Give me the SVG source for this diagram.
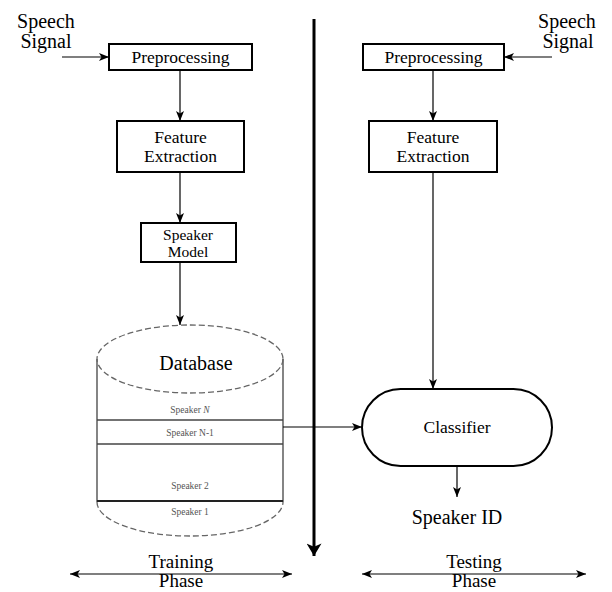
<svg xmlns="http://www.w3.org/2000/svg" width="612" height="592" viewBox="0 0 612 592">
<style>
.box{fill:#fff;stroke:#000;stroke-width:2}
.t{font-family:"Liberation Serif","Times New Roman",serif;fill:#000;text-anchor:middle}
.bt{font-size:17.5px}
.mt{font-size:15.5px}
.lt{font-size:20px}
.pt{font-size:19px}
.st{font-size:9.5px;fill:#555}
.c{stroke:#000;stroke-width:1.2;fill:none}
.dash{stroke:#666;stroke-width:1.3;fill:none;stroke-dasharray:6 3}
</style>
<defs>
<marker id="ah" viewBox="0 0 10 8" refX="10" refY="4" markerWidth="10" markerHeight="8" markerUnits="userSpaceOnUse" orient="auto-start-reverse">
<path d="M0,0 L10,4 L0,8 L2.5,4 z" fill="#000"/>
</marker>
<marker id="ahb" viewBox="0 0 10 12" refX="10" refY="6" markerWidth="6" markerHeight="5" orient="auto">
<path d="M0,0 L10,6 L0,12 L2.5,6 z" fill="#000"/>
</marker>
</defs>
<rect width="612" height="592" fill="#fff"/>

<g id="speech-left">
<text class="t lt" x="46" y="28">Speech</text>
<text class="t lt" x="46" y="48">Signal</text>
</g>
<g id="speech-right">
<text class="t lt" x="567" y="28">Speech</text>
<text class="t lt" x="568" y="48">Signal</text>
</g>

<g id="pre-left">
<rect class="box" x="109" y="44" width="143" height="26"/>
<text class="t bt" x="180.5" y="63">Preprocessing</text>
</g>
<g id="feat-left">
<rect class="box" x="117" y="121" width="127" height="51"/>
<text class="t bt" x="180.5" y="143">Feature</text>
<text class="t bt" x="180.5" y="162">Extraction</text>
</g>
<g id="model">
<rect class="box" x="141" y="223" width="95" height="39"/>
<text class="t mt" x="188" y="240">Speaker</text>
<text class="t mt" x="188" y="257">Model</text>
</g>

<g id="database">
<path d="M97,359 L97,502 M283,359 L283,502" stroke="#444" stroke-width="1.3" fill="none"/>
<ellipse class="dash" cx="190" cy="359" rx="93" ry="34"/>
<path class="dash" d="M97,502 A93,34 0 0 0 283,502"/>
<line x1="97" y1="420" x2="283" y2="420" stroke="#444" stroke-width="1.3"/>
<line x1="97" y1="444" x2="283" y2="444" stroke="#444" stroke-width="1.3"/>
<line x1="97" y1="501" x2="283" y2="501" stroke="#222" stroke-width="2"/>
<text class="t lt" x="196" y="370">Database</text>
<text class="t st" x="190" y="413">Speaker <tspan font-style="italic">N</tspan></text>
<text class="t st" x="190" y="436">Speaker N-1</text>
<text class="t st" x="190" y="489">Speaker 2</text>
<text class="t st" x="190" y="515">Speaker 1</text>
</g>

<g id="pre-right">
<rect class="box" x="363" y="44" width="141" height="26"/>
<text class="t bt" x="433.5" y="63">Preprocessing</text>
</g>
<g id="feat-right">
<rect class="box" x="369" y="121" width="128" height="51"/>
<text class="t bt" x="433" y="143">Feature</text>
<text class="t bt" x="433" y="162">Extraction</text>
</g>
<g id="classifier">
<rect class="box" x="362" y="389" width="190" height="77" rx="38.5" ry="38.5"/>
<text class="t bt" x="457" y="433">Classifier</text>
</g>
<g id="speaker-id">
<text class="t lt" x="457" y="524">Speaker ID</text>
</g>

<g id="phases">
<text class="t pt" x="181" y="568">Training</text>
<text class="t pt" x="181" y="587">Phase</text>
<text class="t pt" x="474" y="568">Testing</text>
<text class="t pt" x="474" y="587">Phase</text>
</g>

<g id="connectors">
<line class="c" x1="62" y1="57" x2="109" y2="57" marker-end="url(#ah)"/>
<line class="c" x1="552" y1="57" x2="504" y2="57" marker-end="url(#ah)"/>
<line class="c" x1="180" y1="70" x2="180" y2="121" marker-end="url(#ah)"/>
<line class="c" x1="433" y1="70" x2="433" y2="121" marker-end="url(#ah)"/>
<line class="c" x1="180" y1="172" x2="180" y2="223" marker-end="url(#ah)"/>
<line class="c" x1="180" y1="262" x2="180" y2="325" marker-end="url(#ah)"/>
<line class="c" x1="433" y1="172" x2="433" y2="389" marker-end="url(#ah)"/>
<line class="c" x1="283" y1="427" x2="362" y2="427" marker-end="url(#ah)"/>
<line class="c" x1="457" y1="466" x2="457" y2="497" marker-end="url(#ah)"/>
<line x1="314" y1="19" x2="314" y2="556" stroke="#000" stroke-width="3" marker-end="url(#ahb)"/>
<line class="c" x1="70" y1="574" x2="292" y2="574" marker-start="url(#ah)" marker-end="url(#ah)"/>
<line class="c" x1="362" y1="574" x2="586" y2="574" marker-start="url(#ah)" marker-end="url(#ah)"/>
</g>
</svg>
